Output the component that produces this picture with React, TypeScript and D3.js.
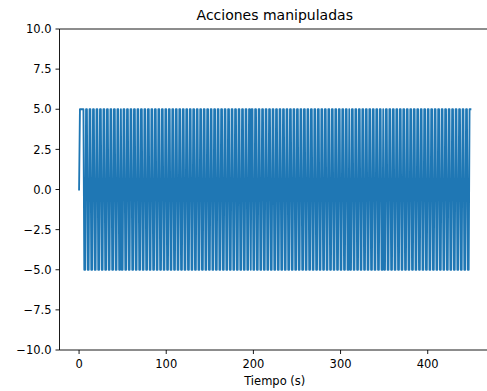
import React from "react";
import * as d3 from "d3";

// Initial part of the signal: (time, value)
const startTimes = [0, 1, 2, 3, 4, 5];
const startValues = [0, 5, 5, 5, 5, 5];
// After t=6 the signal alternates between these two levels
const levels = [-5, 5];
// Hold length (in samples) of each successive level
const holds = [
  2,2,2,2,2,2,2,2,2,2,2,2,2,2,2,2,2,2,2,2,
  2,1,2,2,2,2,2,2,2,2,2,2,2,2,2,2,2,2,2,2,
  2,2,2,2,2,2,2,2,2,2,2,2,2,2,2,2,2,2,2,2,
  2,2,2,2,2,2,2,2,2,2,2,2,2,2,2,2,2,2,2,2,
  2,2,2,2,2,2,2,2,2,2,2,2,2,2,2,2,1,2,2,2,
  2,2,2,2,2,2,2,2,2,2,2,2,2,2,2,2,2,2,2,2,
  2,2,2,2,2,2,2,2,2,2,2,2,2,2,2,2,2,2,2,2,
  2,2,2,2,2,2,2,2,2,2,2,2,2,1,2,2,2,2,2,2,
  2,2,2,2,2,2,2,2,2,2,2,2,2,1,2,2,2,2,2,2,
  2,2,2,2,2,2,2,2,2,2,2,2,2,2,2,2,2,2,2,2,
  2,2,2,2,2,2,2,2,2,2,2,2,2,2,2,2,2,2,2,2,
  2,2,2,2,
];
const yTicks = [-10, -7.5, -5, -2.5, 0, 2.5, 5, 7.5, 10];
const xTicks = [0, 100, 200, 300, 400];
const title = "Acciones manipuladas";
const xLabel = "Tiempo (s)";

function buildSeries(): [number, number][] {
  const pts: [number, number][] = startTimes.map((t, i) => [t, startValues[i]]);
  let t = startTimes[startTimes.length - 1] + 1;
  holds.forEach((h, i) => {
    const v = levels[i % 2];
    for (let k = 0; k < h; k++) {
      pts.push([t, v]);
      t++;
    }
  });
  return pts;
}

export default function App() {
  const W = 487, H = 391;
  const left = 59.5, right = 490, top = 29, bottom = 350;
  const data = buildSeries();
  const xMin = d3.min(data, d => d[0])!;
  const xMax = d3.max(data, d => d[0])!;
  const pad = (xMax - xMin) * 0.05;
  const x = d3.scaleLinear().domain([xMin - pad, xMax + pad]).range([left, right]);
  const y = d3.scaleLinear().domain([-10, 10]).range([bottom, top]);
  const line = d3.line<[number, number]>().x(d => x(d[0])).y(d => y(d[1]));
  const font = "DejaVu Sans, sans-serif";
  const fmtY = (v: number) => (v < 0 ? "\u2212" : "") + Math.abs(v).toFixed(1);
  const fs = 11.5;
  return (
    <svg width={W} height={H} style={{ position: "absolute", left: 0, top: 0, background: "#fff" }}
      fontFamily={font}>
      <rect x={0} y={0} width={W} height={H} fill="#fff" />
      <defs>
        <clipPath id="plotclip">
          <rect x={left} y={top} width={right - left} height={bottom - top} />
        </clipPath>
      </defs>
      <path d={line(data)!} fill="none" stroke="#1f77b4" strokeWidth={1.85}
        strokeLinejoin="round" strokeLinecap="square" clipPath="url(#plotclip)" />
      {/* spines */}
      <line x1={left} y1={top} x2={left} y2={bottom} stroke="#000" strokeWidth={0.9} />
      <line x1={left} y1={bottom} x2={right} y2={bottom} stroke="#000" strokeWidth={0.9} />
      <line x1={left} y1={top} x2={right} y2={top} stroke="#000" strokeWidth={0.9} />
      <line x1={right} y1={top} x2={right} y2={bottom} stroke="#000" strokeWidth={0.9} />
      {yTicks.map(v => (
        <g key={"y" + v}>
          <line x1={left - 4} x2={left} y1={y(v)} y2={y(v)} stroke="#000" strokeWidth={0.9} />
          <text x={left - 8} y={y(v)} dy="0.36em" textAnchor="end" fontSize={fs} fill="#000">
            {fmtY(v)}
          </text>
        </g>
      ))}
      {xTicks.map(v => (
        <g key={"x" + v}>
          <line x1={x(v)} x2={x(v)} y1={bottom} y2={bottom + 4} stroke="#000" strokeWidth={0.9} />
          <text x={x(v)} y={368} textAnchor="middle" fontSize={fs} fill="#000">
            {v}
          </text>
        </g>
      ))}
      <text x={(left + right) / 2} y={19.5} textAnchor="middle" fontSize={14} fill="#000">{title}</text>
      <text x={(left + right) / 2} y={385} textAnchor="middle" fontSize={fs} fill="#000">{xLabel}</text>
    </svg>
  );
}
